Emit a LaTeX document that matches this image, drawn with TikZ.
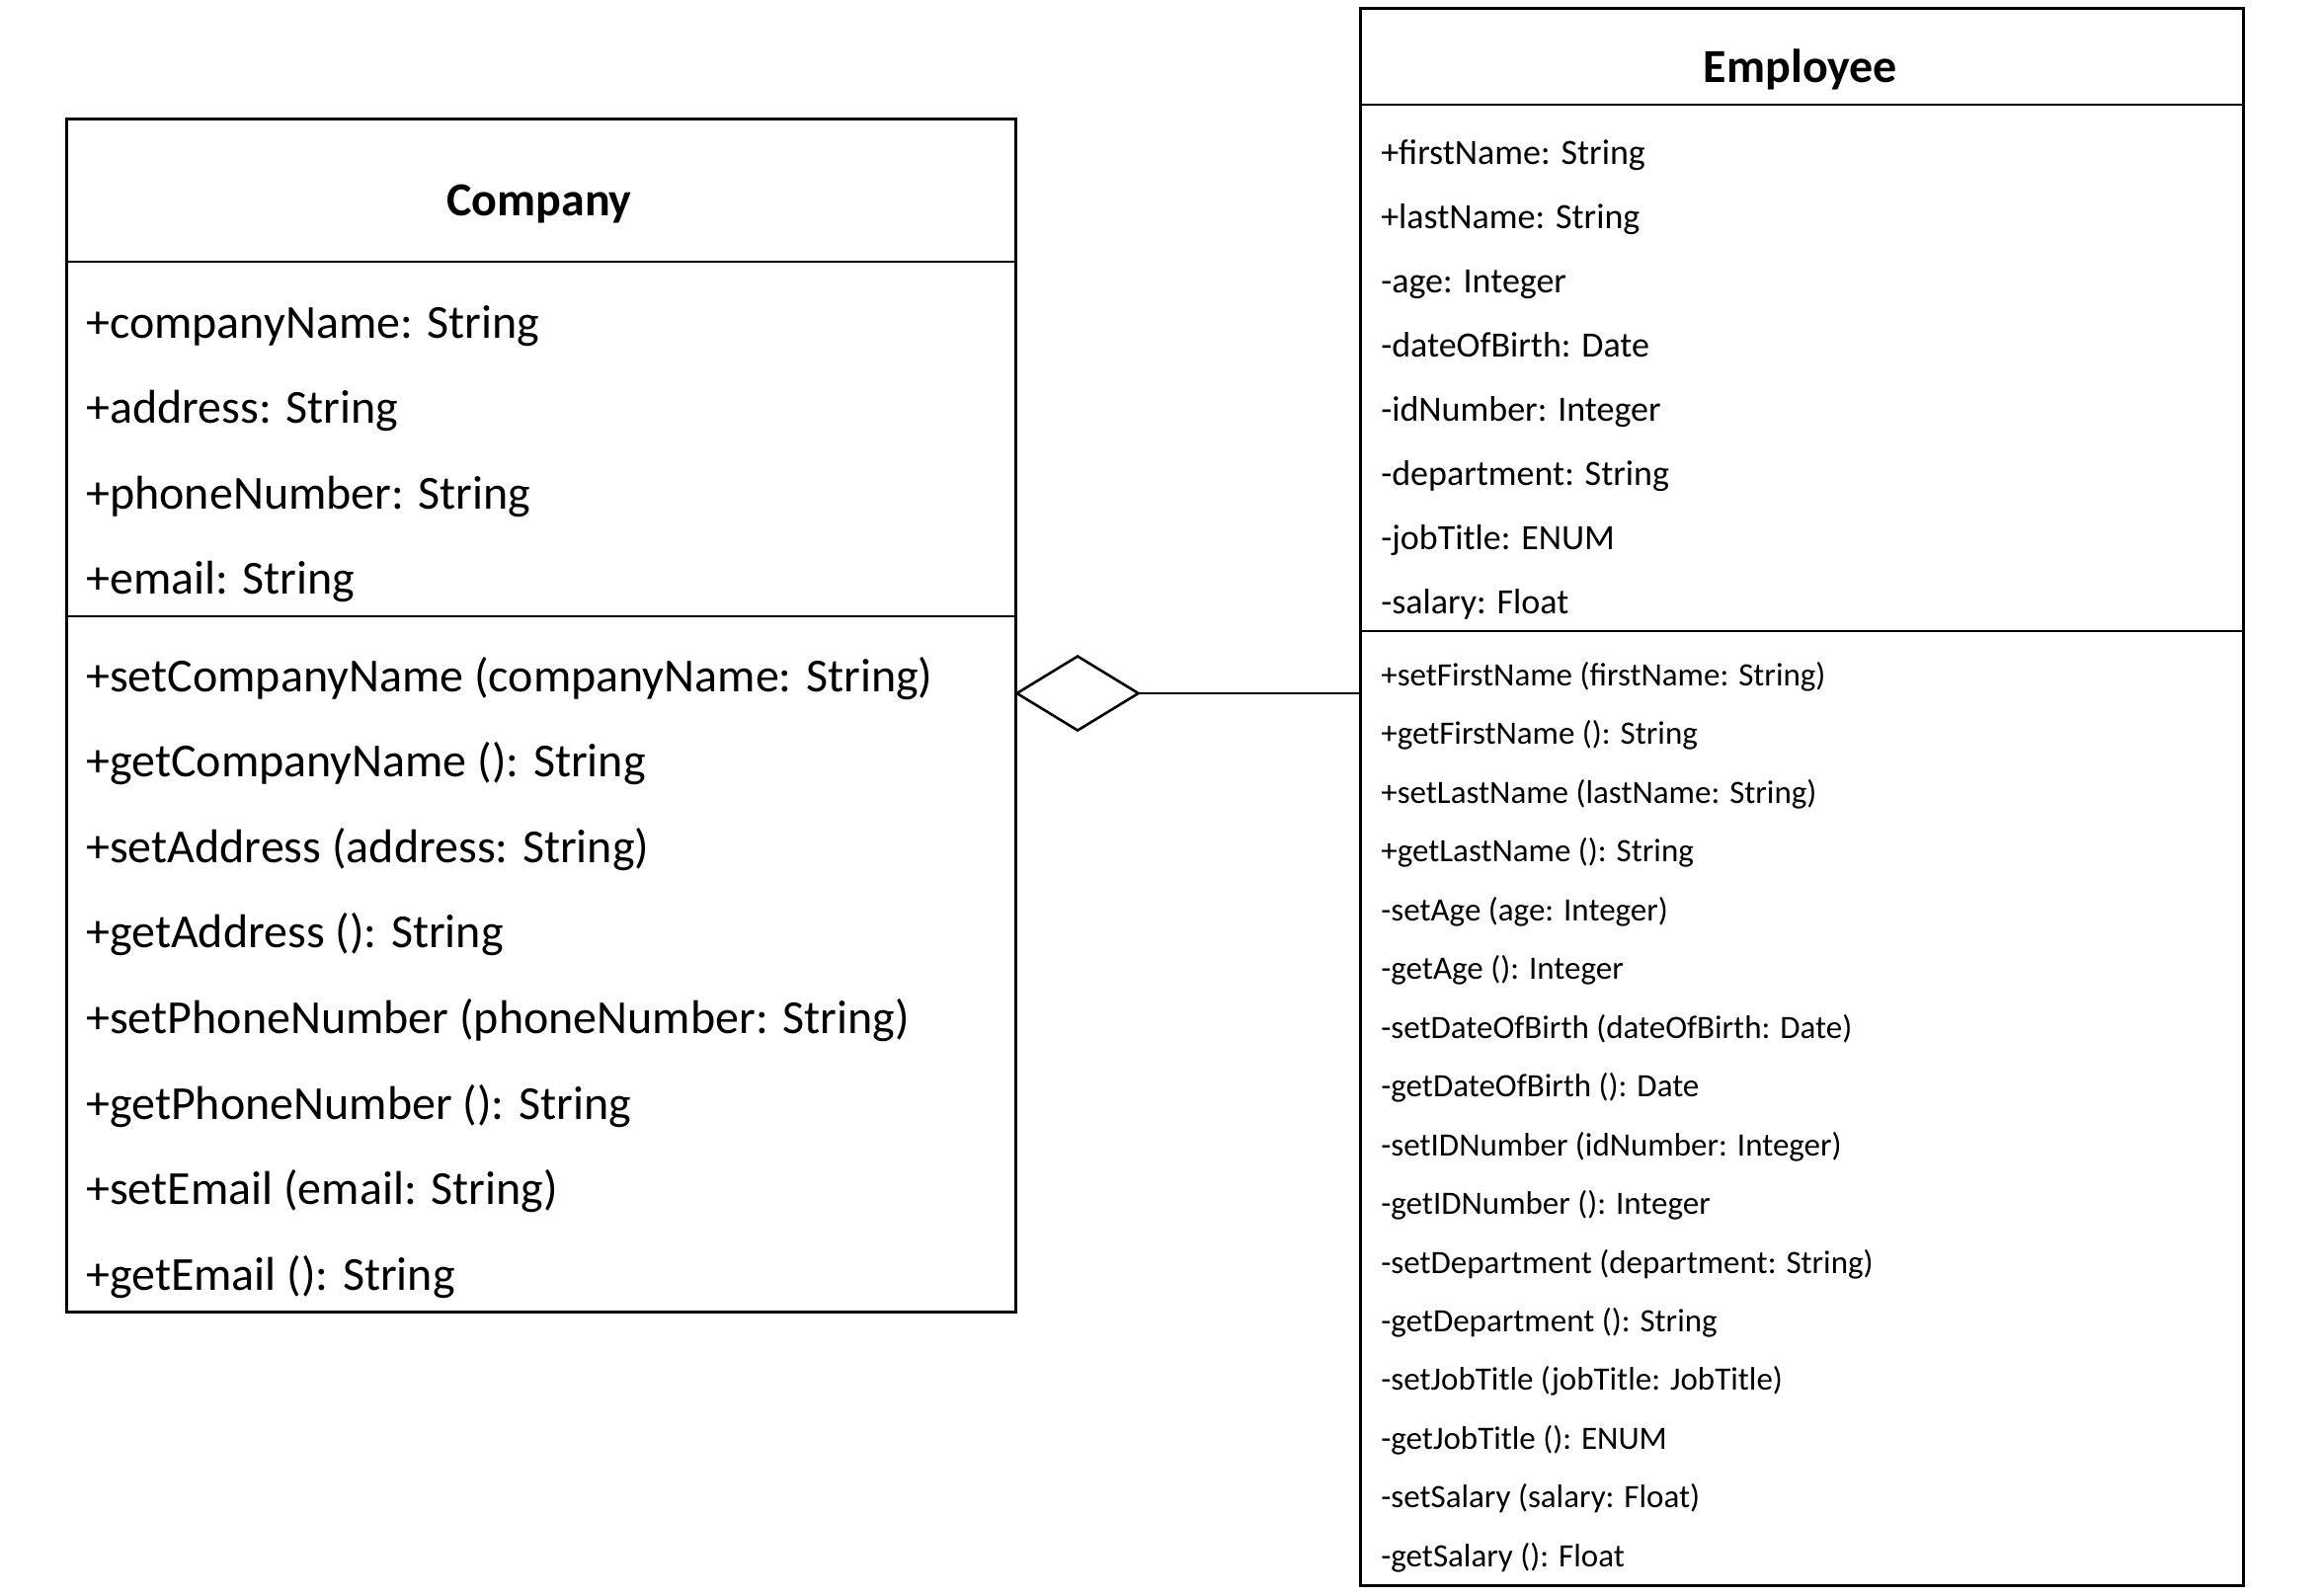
\documentclass[tikz,border=0pt]{standalone}
\usepackage{fontspec}
\setmainfont{Carlito}
\begin{document}
\begin{tikzpicture}[x=1pt,y=-1pt, line width=2.6pt, line join=miter,
  umlbox/.style={draw, rectangle, inner sep=0pt, anchor=north west},
  clstitle/.style={font=\fontsize{48}{58}\selectfont\bfseries, anchor=base, inner sep=0pt},
  catt/.style={font=\fontsize{48}{58}\selectfont, anchor=base west, inner sep=0pt},
  eatt/.style={font=\fontsize{36}{43}\selectfont, anchor=base west, inner sep=0pt},
  emeth/.style={font=\fontsize{33}{40}\selectfont, anchor=base west, inner sep=0pt}]
\useasboundingbox (0,0) rectangle (2351,1615);
% Company class
\node[umlbox, minimum width=961pt, minimum height=1208pt] (company) at (66,119) {};
\draw (company.west |- 0,265) -- (company.east |- 0,265);
\draw (company.west |- 0,624) -- (company.east |- 0,624);
\node[clstitle] (ctitle) at (546,218) {Company};
\foreach \t [count=\i from 0] in {+companyName: String, +address: String, +phoneNumber: String, +email: String}
  \node[catt] (ca\i) at (86,342+86.5*\i) {\t};
\foreach \t [count=\i from 0] in {+setCompanyName (companyName: String), +getCompanyName (): String, +setAddress (address: String), +getAddress (): String, +setPhoneNumber (phoneNumber: String), +getPhoneNumber (): String, +setEmail (email: String), +getEmail (): String}
  \node[catt] (cm\i) at (86,700+86.6*\i) {\t};
% Employee class
\node[umlbox, minimum width=894pt, minimum height=1597pt] (employee) at (1376,7) {};
\draw (employee.west |- 0,106) -- (employee.east |- 0,106);
\draw (employee.west |- 0,639) -- (employee.east |- 0,639);
\node[clstitle] (etitle) at (1823,83) {Employee};
\foreach \t [count=\i from 0] in {+firstName: String, +lastName: String, -age: Integer, -dateOfBirth: Date, -idNumber: Integer, -department: String, -jobTitle: ENUM, -salary: Float}
  \node[eatt] (ea\i) at (1397,166+65*\i) {\t};
\foreach \t [count=\i from 0] in {+setFirstName (firstName: String), +getFirstName (): String, +setLastName (lastName: String), +getLastName (): String, -setAge (age: Integer), -getAge (): Integer, -setDateOfBirth (dateOfBirth: Date), -getDateOfBirth (): Date, -setIDNumber (idNumber: Integer), -getIDNumber (): Integer, -setDepartment (department: String), -getDepartment (): String, -setJobTitle (jobTitle: JobTitle), -getJobTitle (): ENUM, -setSalary (salary: Float), -getSalary (): Float}
  \node[emeth] (em\i) at (1397,694.5+59.45*\i) {\t};
% Aggregation
\coordinate (dL) at (company.east |- 0,702);
\draw (dL) -- ++(61.5,-37.5) -- ++(61.5,37.5) coordinate (dR) -- ++(-61.5,37.5) -- cycle;
\draw (dR) -- (employee.west |- dR);
\end{tikzpicture}
\end{document}
